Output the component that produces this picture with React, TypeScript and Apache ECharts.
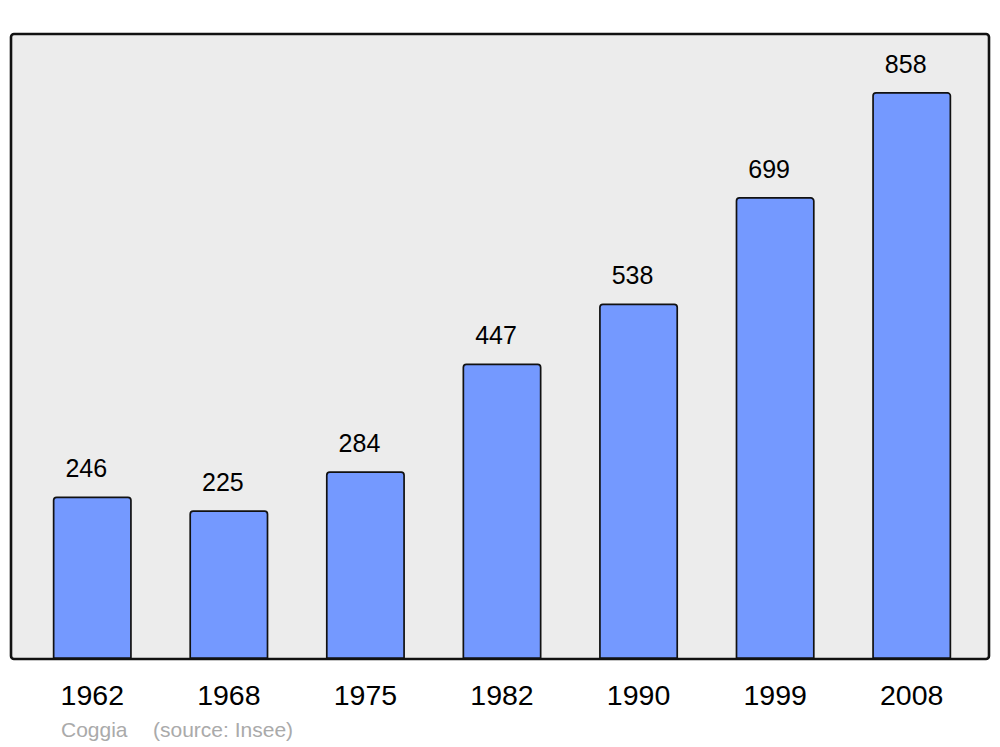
import React, { useEffect, useRef } from "react";
import * as echarts from "echarts";

const years = ["1962", "1968", "1975", "1982", "1990", "1999", "2008"];
const population = [246, 225, 284, 447, 538, 699, 858];
const commune = "Coggia";
const source = "(source: Insee)";

export default function App() {
  const ref = useRef<HTMLDivElement>(null);
  useEffect(() => {
    if (!ref.current) return;
    const chart = echarts.init(ref.current, null, { renderer: "svg" });
    chart.setOption({
      animation: false,
      backgroundColor: "#ffffff",
      textStyle: { fontFamily: "Liberation Sans, Arial, sans-serif" },
      graphic: [
        {
          type: "rect",
          z: -10,
          shape: { x: 11, y: 34, width: 978, height: 625, r: 3 },
          style: { fill: "#ececec", stroke: "#111111", lineWidth: 2.6 },
        },
        {
          type: "text",
          left: 61,
          top: 719,
          style: {
            text: commune,
            fill: "#aaaaaa",
            font: "21px 'Liberation Sans', Arial, sans-serif",
          },
        },
        {
          type: "text",
          left: 153,
          top: 719,
          style: {
            text: source,
            fill: "#aaaaaa",
            font: "21px 'Liberation Sans', Arial, sans-serif",
          },
        },
      ],
      grid: { left: 24, right: 20, top: 92, bottom: 88, containLabel: false },
      xAxis: {
        type: "category",
        data: years,
        boundaryGap: true,
        axisLine: { show: false },
        axisTick: { show: false },
        axisLabel: {
          color: "#000000",
          fontSize: 28.5,
          margin: 21,
          fontFamily: "Liberation Sans, Arial, sans-serif",
        },
      },
      yAxis: {
        type: "value",
        min: 0,
        max: 858,
        show: false,
        splitLine: { show: false },
      },
      series: [
        {
          type: "bar",
          data: population,
          barWidth: 79,
          itemStyle: {
            color: "#7499ff",
            borderColor: "#111111",
            borderWidth: 1.7,
            borderRadius: [3, 3, 0, 0],
          },
          label: {
            show: true,
            position: "top",
            distance: 16,
            offset: [-6, 0],
            color: "#000000",
            fontSize: 25,
            fontFamily: "Liberation Sans, Arial, sans-serif",
          },
        },
      ],
    });
    return () => chart.dispose();
  }, []);
  return <div ref={ref} style={{ width: 1000, height: 747, position: "absolute", left: 0, top: 0 }} />;
}
